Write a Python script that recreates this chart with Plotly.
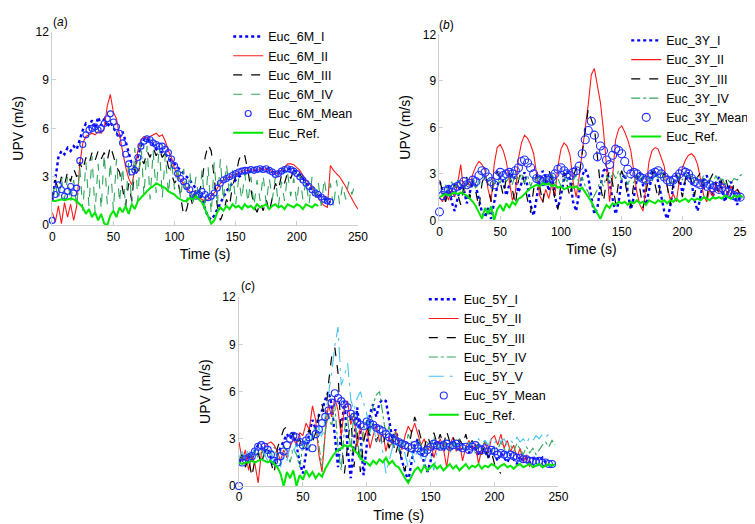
import plotly.graph_objects as go

STEP = 2.5  # sampling interval (s) of every series

# ---------------- Panel (a) : Euc 6M ----------------
a_I = [1.5,3.0,4.2,4.6,4.4,4.8,4.6,4.9,4.7,5.3,5.9,6.3,6.1,6.5,6.0,6.7,6.2,6.6,6.1,6.4,
       6.0,5.7,5.4,5.8,5.2,4.4,3.8,3.6,4.3,4.9,5.3,5.4,5.2,5.0,4.7,4.6,4.5,4.4,4.2,4.0,
       3.8,3.6,3.4,3.2,3.0,2.8,2.5,2.3,2.0,1.6,1.0,0.5,0.35,0.6,1.0,1.4,1.8,2.1,2.4,2.6,
       2.8,3.0,3.1,3.2,3.3,3.35,3.4,3.4,3.45,3.5,3.5,3.45,3.35,3.2,3.2,3.3,3.4,3.5,3.5,3.4,
       3.3,3.1,2.9,2.6,2.4,2.2,2.0,1.9,1.8,1.7,1.5,1.4]
a_II = [0.8,0.2,1.2,0.1,1.4,0.5,1.3,0.3,1.2,3.8,5.1,5.5,5.6,5.7,5.6,5.8,5.7,6.0,7.4,8.1,
        7.0,6.6,5.6,4.5,3.6,2.9,2.5,3.4,4.6,5.3,5.5,5.4,5.5,5.6,5.7,5.5,5.6,5.2,4.6,4.2,
        3.5,3.1,2.8,2.6,2.3,2.1,1.8,1.7,1.7,1.6,1.5,1.6,1.8,2.0,2.3,2.6,2.8,2.9,3.0,3.1,
        3.2,3.3,3.35,3.4,3.4,3.45,3.4,3.45,3.5,3.45,3.5,3.4,3.3,3.2,3.25,3.4,3.6,3.8,3.8,3.75,
        3.6,3.4,3.1,2.8,2.6,2.3,2.0,1.7,1.4,1.2,1.1,3.7,3.4,3.2,3.0,2.7,2.4,2.0,1.6,1.3,1.0]
a_III = [1.6,2.8,2.2,3.0,2.5,3.3,2.7,3.5,3.0,3.9,3.4,4.2,3.8,4.5,4.0,4.6,4.1,4.5,4.0,4.9,
         4.3,3.6,3.3,2.2,1.2,2.6,1.5,3.5,3.0,4.2,3.8,4.6,4.2,4.8,4.3,4.7,4.2,4.5,3.6,3.2,
         2.6,2.9,1.6,0.6,1.0,1.9,1.2,2.4,2.0,2.7,4.2,5.0,4.6,2.8,1.2,0.3,0.8,1.6,1.2,2.5,
         3.0,4.0,4.5,4.3,3.4,2.2,1.2,0.8,1.4,0.9,1.6,0.8,1.8,2.6,2.2,3.1,2.6,3.3,2.9,3.4,
         3.0,3.2,2.8]
a_IV = [1.8,2.6,1.5,2.9,1.6,3.0,1.4,2.8,1.1,3.6,0.9,3.9,1.2,4.3,0.8,3.8,1.0,4.4,1.3,3.9,
        0.9,4.1,1.4,3.6,1.1,4.0,1.3,4.8,1.5,5.2,1.8,4.9,1.6,4.6,2.0,5.0,1.7,4.4,1.9,4.1,
        2.2,3.7,1.6,3.5,1.4,3.3,1.2,3.0,1.5,3.4,1.0,3.6,0.7,3.9,1.2,4.1,1.5,3.8,1.8,3.4,
        1.3,2.9,1.6,3.2,1.4,3.0,1.2,2.8,1.5,3.1,1.3,2.9,1.6,3.0,1.2,2.7,1.5,3.2,1.8,2.9,
        1.4,3.1,1.6,2.8,1.3,3.0,1.5,2.7,1.2,2.9,1.4,2.6,1.1,2.8,1.3,2.5,1.6,2.7,1.9,2.5]
a_mean = [0.3,1.9,2.5,2.2,1.8,2.1,2.4,2.0,2.3,4.0,5.0,5.6,5.9,6.0,6.1,5.9,6.0,6.3,6.6,6.9,
          6.4,6.1,5.7,5.1,4.4,3.8,3.3,3.4,4.2,4.9,5.2,5.35,5.3,5.1,5.0,4.9,4.9,4.7,4.5,4.1,
          3.7,3.2,2.9,2.7,2.4,2.2,1.9,1.8,1.9,2.1,1.9,1.7,1.8,2.0,2.3,2.6,2.8,2.9,3.0,3.1,
          3.2,3.3,3.35,3.4,3.4,3.45,3.4,3.45,3.5,3.45,3.5,3.4,3.3,3.15,3.2,3.35,3.45,3.5,3.45,3.35,
          3.2,3.0,2.8,2.6,2.4,2.2,2.0,1.9,1.75,1.6,1.5,1.45]
a_ref = [1.5,1.5,1.55,1.6,1.55,1.6,1.65,1.6,1.5,1.3,1.1,0.7,1.0,0.5,0.8,0.3,0.7,0.1,0.0,0.6,
         0.9,0.5,1.1,0.8,1.2,0.7,1.3,1.0,1.5,1.7,1.9,2.1,2.3,2.4,2.6,2.5,2.4,2.3,2.1,2.0,
         1.9,1.7,1.6,1.5,1.5,1.7,1.6,1.8,1.6,1.4,1.0,0.6,0.1,0.3,0.8,1.1,0.9,1.2,1.0,1.3,
         1.1,1.2,1.0,1.3,1.1,1.2,1.0,1.3,1.1,1.2,1.3,1.0,1.2,1.3,1.1,1.2,1.0,1.3,1.2,1.1,
         1.3,1.2,1.0,1.3,1.2,1.1,1.3,1.2]

# ---------------- Panel (b) : Euc 3Y ----------------
b_I = [2.5,2.0,1.4,2.2,1.2,0.6,1.5,2.3,2.0,1.1,1.8,2.6,2.2,1.3,0.5,0.2,0.8,0.1,1.2,2.2,
       2.8,2.5,1.6,2.3,3.0,2.6,1.8,2.4,3.1,2.2,1.0,0.3,1.4,2.6,3.2,2.8,1.9,3.0,1.5,0.8,
       1.6,2.7,3.2,2.6,1.2,0.6,1.8,2.9,3.3,2.8,1.5,0.4,0.8,2.2,3.2,3.4,2.4,1.3,0.4,1.2,
       2.6,3.0,1.8,0.7,1.5,2.7,3.1,2.3,1.0,1.9,2.9,3.2,2.5,1.6,0.6,0.1,0.9,2.2,3.0,2.7,
       1.8,2.6,3.1,2.4,1.3,0.6,1.7,2.6,2.9,2.2,1.5,2.4,2.8,2.0,1.2,1.9,2.5,1.7,1.0,1.6]
b_II = [1.5,1.2,1.8,1.3,2.0,1.5,2.4,3.6,1.8,2.6,2.2,3.0,3.5,3.8,3.6,3.2,2.0,1.2,3.6,4.7,
        4.9,4.5,3.8,2.4,1.3,1.8,4.0,5.0,5.5,5.3,4.9,4.3,3.0,1.6,1.2,2.0,1.4,2.4,1.6,3.5,
        4.6,5.0,4.8,4.2,2.5,1.5,2.8,4.6,6.0,7.5,9.4,9.8,8.6,7.6,5.8,3.2,1.2,2.8,5.2,5.9,
        6.1,5.7,5.2,4.5,3.1,1.8,1.0,0.6,2.2,3.8,4.5,4.7,4.6,4.1,3.5,2.2,1.3,1.7,1.2,2.6,
        3.4,3.9,4.2,4.3,4.1,3.6,2.6,1.6,1.2,2.0,1.5,2.4,1.8,2.5,2.1,1.6,2.2,1.8,2.0,1.6]
b_III = [2.6,1.8,1.2,2.0,1.5,2.4,1.6,1.0,2.2,2.8,1.4,2.6,1.8,0.8,2.4,3.0,2.3,1.2,2.8,3.2,
         2.5,1.6,2.7,3.1,2.0,1.0,2.6,3.2,2.4,1.3,0.5,2.0,3.0,2.2,1.1,2.7,3.3,2.5,1.4,0.7,
         2.4,3.1,2.3,1.5,2.8,3.4,2.9,4.2,5.8,7.2,6.5,6.0,4.0,2.2,1.2,2.6,3.2,2.4,1.1,2.5,
         3.2,2.6,1.5,0.9,2.4,3.0,2.0,0.8,1.8,2.9,3.2,2.4,1.4,2.6,3.1,2.2,1.0,2.5,3.0,2.3,
         1.5,2.7,3.2,2.5,1.6,2.8,3.1,2.2,1.4,2.6,3.0,2.3,1.7,2.6,2.9,2.1,1.6,2.4,2.0,1.7]
b_IV = [2.0,1.6,2.3,1.8,2.5,2.0,2.6,2.2,1.8,2.5,2.2,2.7,2.0,2.6,2.3,2.9,2.5,2.8,2.2,2.7,
        2.4,3.0,2.5,2.8,2.3,3.1,2.6,3.0,2.4,2.9,2.2,2.7,2.5,2.9,2.3,2.8,2.5,3.0,2.4,2.7,
        2.2,2.8,2.5,3.0,2.6,2.9,2.4,2.8,2.2,1.8,1.2,1.6,2.0,2.6,2.2,2.9,2.5,3.1,2.7,3.2,
        2.6,2.9,2.3,2.8,2.4,3.0,2.6,2.9,2.3,2.8,2.5,3.0,2.7,3.2,2.6,2.9,2.3,2.7,2.4,2.9,
        2.6,3.1,2.7,3.0,2.4,2.8,2.5,2.9,2.3,2.7,2.4,2.9,2.5,2.8,2.3,2.6,2.4,2.7,2.6,2.9,3.0]
b_mean = [0.55,1.6,1.9,2.0,1.8,2.1,2.2,2.3,2.5,2.3,2.4,2.6,2.5,2.9,3.2,3.1,2.8,2.5,2.3,2.9,
          3.1,2.9,3.0,3.1,3.0,3.2,3.4,3.8,3.9,3.7,3.4,3.0,2.7,2.6,2.5,2.7,2.6,2.8,3.0,3.3,
          3.4,3.2,3.0,2.9,3.1,3.2,3.5,4.3,5.2,5.8,6.4,5.5,4.1,4.8,4.5,3.9,3.6,4.2,4.6,4.5,
          4.3,3.8,3.3,3.0,3.1,3.0,2.8,2.7,2.6,2.8,3.0,3.1,3.2,3.0,2.8,2.6,2.5,2.6,2.8,3.0,
          3.2,3.1,3.0,2.7,2.5,2.4,2.3,2.4,2.2,2.3,2.1,2.2,2.0,2.1,1.9,1.8,1.7,1.6,1.5,1.5]
b_ref = [1.5,1.6,1.7,1.6,1.7,1.8,1.7,1.8,1.7,1.6,1.4,1.2,0.9,0.5,0.1,0.8,0.4,0.9,0.0,0.7,
         1.0,0.6,1.1,0.8,1.2,1.0,1.4,1.5,1.7,1.9,2.1,2.2,2.3,2.2,2.4,2.3,2.4,2.2,2.3,2.1,
         2.2,2.0,2.1,2.2,2.1,2.2,2.0,2.1,1.8,1.5,1.2,0.8,0.4,0.1,0.6,1.0,0.8,1.1,1.0,1.2,
         1.1,1.2,1.0,1.2,1.1,1.3,1.1,1.2,1.0,1.3,1.2,1.1,1.3,1.2,1.3,1.1,1.3,1.2,1.4,1.2,
         1.3,1.4,1.2,1.4,1.3,1.4,1.3,1.5,1.4,1.3,1.5,1.4,1.5,1.4,1.6,1.5,1.4,1.6,1.5,1.6,1.5]

# ---------------- Panel (c) : Euc 5Y ----------------
c_I = [1.5,1.8,1.6,2.0,1.7,2.3,2.6,2.5,2.2,2.4,1.8,1.4,2.0,2.4,2.8,3.3,3.0,3.4,2.6,1.5,
       0.8,2.0,3.4,4.2,3.6,4.5,4.8,5.5,6.0,5.2,3.0,1.2,3.5,5.4,2.4,0.5,2.8,5.0,3.2,0.7,
       2.6,4.6,5.2,4.4,5.3,5.5,5.4,4.2,3.0,3.6,2.8,1.6,0.9,0.3,1.5,2.6,3.0,2.4,1.4,0.9,
       1.6,2.5,2.9,2.6,2.2,2.7,2.4,2.9,2.5,2.2,2.7,2.4,2.1,2.6,2.3,1.9,2.4,2.2,1.8,2.3,
       2.0,1.6,2.1,1.8,1.5,2.0,1.7,1.4,1.9,1.6,1.8,1.5,1.7,1.9,1.6,1.8,1.5,1.6]
c_II = [2.8,1.6,2.3,1.0,2.0,1.4,0.2,2.1,2.5,2.7,2.8,2.6,2.2,1.6,2.3,1.8,2.5,3.0,2.6,3.4,
        3.2,4.0,3.6,5.1,4.2,2.0,0.9,3.4,5.2,4.4,5.6,4.8,3.2,5.0,5.4,3.9,4.6,2.5,3.8,2.9,
        3.6,2.4,3.2,3.9,2.8,3.4,2.2,3.1,2.6,3.5,2.9,2.3,3.2,3.8,3.4,4.0,3.3,2.6,3.0,2.2,
        2.7,1.8,2.5,3.0,2.4,1.2,2.6,3.1,2.2,2.8,1.6,2.5,2.9,2.3,2.7,1.4,2.4,2.8,2.1,3.0,
        3.2,2.6,3.3,2.4,2.9,2.2,2.6,1.8,2.4,1.5,2.0,1.2]
c_III = [1.6,2.0,1.2,1.8,0.6,1.7,2.1,1.4,2.2,2.0,1.5,0.8,2.4,3.0,3.6,3.8,3.5,3.2,2.6,3.0,
         2.2,3.2,3.6,2.8,3.4,4.5,5.2,4.2,6.5,8.2,8.8,7.2,3.0,0.8,2.6,4.5,1.2,3.4,0.9,2.8,
         3.8,3.2,4.0,2.8,3.5,2.5,3.3,2.4,3.1,2.0,2.8,1.4,1.0,2.3,3.4,4.4,3.8,3.0,2.4,3.2,
         2.6,3.4,2.7,3.3,2.5,3.5,2.8,3.2,2.4,3.0,2.6,3.3,2.5,2.9,2.2,2.7,2.0,2.6,1.8,2.2,
         1.4,1.0,0.8]
c_IV = [1.6,1.9,1.5,2.1,1.7,2.2,1.8,2.3,1.9,2.4,2.0,2.5,1.8,2.2,2.6,2.1,1.5,2.4,2.0,1.2,
        2.6,3.0,2.2,3.4,3.8,2.6,1.2,3.5,4.6,3.8,5.2,2.4,1.0,3.6,4.4,2.2,4.8,3.0,1.6,3.6,
        4.2,3.4,5.2,5.8,6.0,4.6,3.2,3.8,2.6,3.4,2.2,3.0,2.4,3.3,2.8,2.2,3.0,2.6,2.0,2.8,
        2.4,3.1,2.6,2.2,2.9,2.5,2.1,2.8,2.3,3.0,2.5,2.2,2.8,2.4,2.1,2.7,2.3,2.9,2.5,2.1,
        2.6,2.3,2.8,2.4,2.0,2.6,2.2,2.7,2.3,2.0,2.5,2.1,2.4,2.0,2.3,2.6,2.8,2.5,2.9,2.6]
c_V = [1.8,2.2,1.7,2.4,1.9,2.5,2.2,2.6,2.0,1.6,2.3,1.4,2.0,1.2,2.2,1.6,2.6,2.0,2.8,1.9,
       2.5,3.0,2.4,3.4,2.8,3.8,3.0,4.4,5.6,7.2,8.9,10.1,6.4,7.0,7.8,5.5,4.8,5.6,6.0,5.3,
       4.6,3.4,4.0,2.8,3.5,2.2,0.8,1.6,2.5,3.2,2.4,3.0,2.0,1.2,2.2,1.5,2.6,1.8,1.2,2.4,
       2.0,1.0,2.2,2.7,2.3,2.8,2.5,2.9,2.4,2.8,2.6,2.9,2.5,2.8,2.6,3.0,2.7,2.9,2.6,3.0,
       2.7,3.1,2.8,3.0,2.6,2.9,2.7,3.1,2.8,3.0,2.7,3.1,2.9,3.2,3.0,3.3,3.1,3.3,3.2]
c_mean = [0.0,1.5,1.7,1.8,1.9,2.2,2.5,2.6,2.5,2.3,2.0,1.6,1.5,1.9,2.2,2.6,3.0,3.2,3.1,2.8,
          2.6,2.9,3.1,2.4,3.3,3.6,4.0,4.4,4.8,5.3,5.9,5.6,5.4,5.2,5.0,4.6,4.4,4.1,3.9,3.8,
          4.1,4.0,3.9,3.7,3.6,3.5,3.3,3.1,3.0,2.9,2.8,2.7,2.6,2.5,2.4,2.6,2.4,2.2,2.1,2.3,
          2.5,2.7,2.6,2.5,2.6,2.7,2.5,2.6,2.7,2.5,2.4,2.5,2.3,2.5,2.6,2.4,2.3,2.4,2.2,2.3,
          2.2,2.0,2.1,2.0,1.9,2.0,1.9,1.8,1.8,1.7,1.7,1.6,1.6,1.5,1.6,1.5,1.5,1.4,1.4]
c_ref = [1.5,1.4,1.5,1.5,1.6,1.5,1.6,1.7,1.6,1.5,1.6,1.4,1.2,0.8,0.0,0.9,0.5,1.0,0.0,0.7,
         0.4,1.0,0.6,0.9,0.5,0.8,0.6,1.1,1.5,1.8,2.1,2.3,2.4,2.6,2.5,2.6,2.3,2.1,1.8,1.6,
         1.5,1.3,1.6,1.4,1.7,1.5,1.8,1.4,1.6,1.3,1.2,0.8,0.5,0.2,0.6,1.0,1.2,0.9,1.3,1.0,
         1.2,1.4,1.1,1.3,1.0,1.2,1.4,1.1,1.3,1.0,1.2,1.4,1.1,1.3,1.2,1.4,1.1,1.3,1.2,1.4,
         1.3,1.1,1.3,1.4,1.2,1.3,1.1,1.3,1.4,1.2,1.3,1.4,1.2,1.3,1.4,1.2,1.3,1.4,1.3,1.4]

X_TICKS = [0, 50, 100, 150, 200, 250]
Y_TICKS = [0, 3, 6, 9, 12]

W, H = 755, 524
FONT = "Liberation Sans, Arial, Helvetica, sans-serif"
BLUE, RED, BLACK = "#0000ff", "#ff1a1a", "#000000"
GREEN_D, GREEN_REF, CYAN = "#2ea55a", "#00e600", "#45c4ee"


def times(vals):
    return [i * STEP for i in range(len(vals))]


fig = go.Figure()


def add(vals, name, ax, leg, kind):
    xa, ya = ("x", "y") if ax == 1 else (f"x{ax}", f"y{ax}")
    common = dict(x=times(vals), y=vals, name=name, xaxis=xa, yaxis=ya,
                  legend=leg, cliponaxis=False)
    if kind == "I":
        tr = go.Scatter(mode="lines", line=dict(color=BLUE, width=2.4, dash="dot"), **common)
    elif kind == "II":
        tr = go.Scatter(mode="lines", line=dict(color=RED, width=1.1), **common)
    elif kind == "III":
        tr = go.Scatter(mode="lines", line=dict(color=BLACK, width=1.2, dash="dash"), **common)
    elif kind == "IVd":
        tr = go.Scatter(mode="lines", line=dict(color=GREEN_D, width=1.1, dash="dash"), **common)
    elif kind == "IV":
        tr = go.Scatter(mode="lines", line=dict(color=GREEN_D, width=1.1, dash="dashdot"), **common)
    elif kind == "V":
        tr = go.Scatter(mode="lines", line=dict(color=CYAN, width=1.1, dash="longdashdot"), **common)
    elif kind.startswith("M"):
        size = int(kind[1:])
        tr = go.Scatter(mode="markers", marker=dict(symbol="circle-open", color="#1f2fff",
                        size=size, line=dict(width=1.1)), **common)
    else:
        tr = go.Scatter(mode="lines", line=dict(color=GREEN_REF, width=2.0), **common)
    fig.add_trace(tr)


add(a_I, "Euc_6M_I", 1, "legend", "I")
add(a_II, "Euc_6M_II", 1, "legend", "II")
add(a_III, "Euc_6M_III", 1, "legend", "III")
add(a_IV, "Euc_6M_IV", 1, "legend", "IVd")
add(a_mean, "Euc_6M_Mean", 1, "legend", "M6")
add(a_ref, "Euc_Ref.", 1, "legend", "R")

add(b_I, "Euc_3Y_I", 2, "legend2", "I")
add(b_II, "Euc_3Y_II", 2, "legend2", "II")
add(b_III, "Euc_3Y_III", 2, "legend2", "III")
add(b_IV, "Euc_3Y_IV", 2, "legend2", "IV")
add(b_mean, "Euc_3Y_Mean", 2, "legend2", "M8")
add(b_ref, "Euc_Ref.", 2, "legend2", "R")

add(c_I, "Euc_5Y_I", 3, "legend3", "I")
add(c_II, "Euc_5Y_II", 3, "legend3", "II")
add(c_III, "Euc_5Y_III", 3, "legend3", "III")
add(c_IV, "Euc_5Y_IV", 3, "legend3", "IV")
add(c_V, "Euc_5Y_V", 3, "legend3", "V")
add(c_mean, "Euc_5Y_Mean", 3, "legend3", "M7")
add(c_ref, "Euc_Ref.", 3, "legend3", "R")


def px_x(p):
    return p / W


def px_y(p):
    return 1 - p / H


AX = dict(showline=True, linecolor="#cfcfcf", linewidth=1, ticks="inside", ticklen=4,
          tickcolor="#cfcfcf", showgrid=False, zeroline=False,
          tickfont=dict(size=12, color="black", family=FONT))


def xax(dom, anchor):
    return dict(AX, domain=dom, anchor=anchor, range=[0, 250], tickvals=X_TICKS,
                title=dict(text="Time (s)", font=dict(size=14, family=FONT, color="black"), standoff=6))


def yax(dom, anchor):
    return dict(AX, domain=dom, anchor=anchor, range=[0, 12], tickvals=Y_TICKS,
                title=dict(text="UPV (m/s)", font=dict(size=14, family=FONT, color="black"), standoff=8))


LEG = dict(bgcolor="rgba(0,0,0,0)", font=dict(size=12.5, family=FONT, color="black"),
           xanchor="left", yanchor="top", tracegroupgap=0, itemwidth=30)


def label(txt, px, py):
    return dict(text=txt, x=px_x(px), y=px_y(py), xref="paper", yref="paper",
                xanchor="center", yanchor="middle", showarrow=False,
                font=dict(size=12, family=FONT, color="black"))


fig.update_layout(
    width=W, height=H, margin=dict(l=0, r=0, t=0, b=0),
    paper_bgcolor="white", plot_bgcolor="white",
    font=dict(family=FONT, color="black"),
    xaxis=xax([px_x(42), px_x(353)], "y"),
    yaxis=yax([px_y(216), px_y(17)], "x"),
    xaxis2=xax([px_x(436), px_x(745)], "y2"),
    yaxis2=yax([px_y(211), px_y(20)], "x2"),
    xaxis3=xax([px_x(232), px_x(557)], "y3"),
    yaxis3=yax([px_y(484), px_y(290)], "x3"),
    legend=dict(LEG, x=px_x(221), y=px_y(7)),
    legend2=dict(LEG, x=px_x(626), y=px_y(11)),
    legend3=dict(LEG, x=px_x(420), y=px_y(277)),
    annotations=[
        label("(<i>a</i>)", 50, 7),
        label("(<i>b</i>)", 443, 10),
        label("(<i>c</i>)", 241, 278),
    ],
)

fig.write_html("out.html")
